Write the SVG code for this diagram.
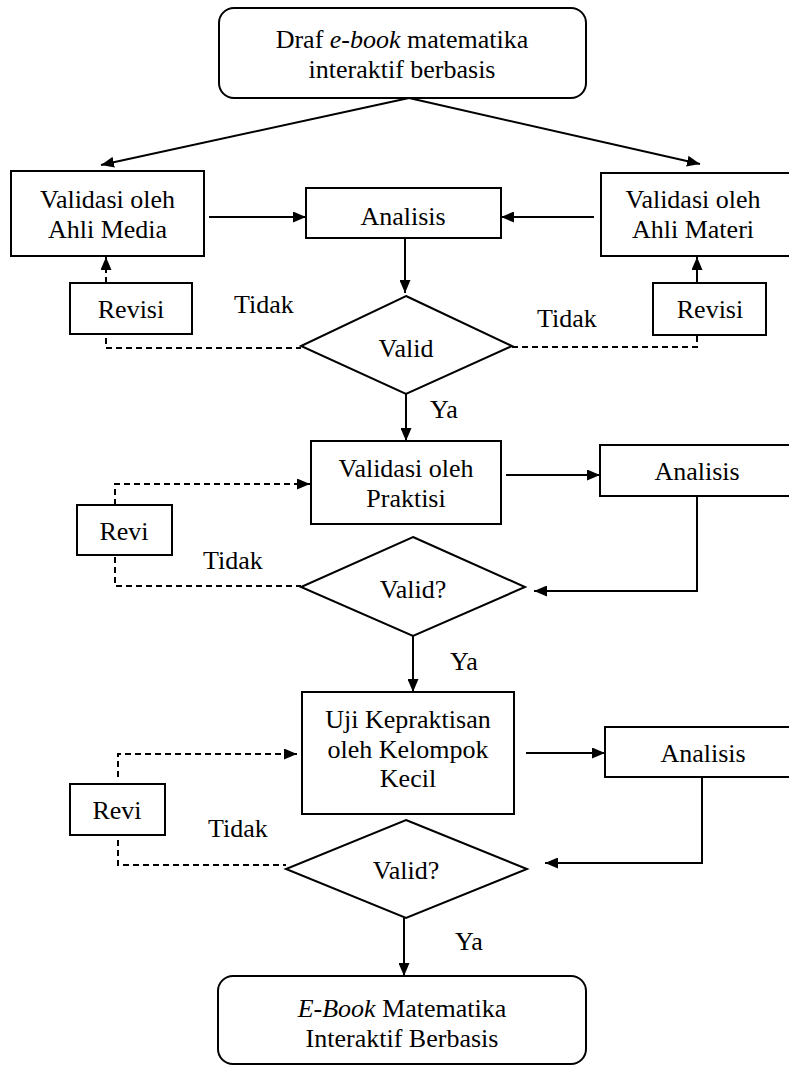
<svg xmlns="http://www.w3.org/2000/svg" width="789" height="1066" viewBox="0 0 789 1066">
<defs>
<marker id="ah" viewBox="0 0 13 11" refX="13" refY="5.5" markerWidth="13" markerHeight="11" orient="auto" markerUnits="userSpaceOnUse"><path d="M0,0 L13,5.5 L0,11 z" fill="#000"/></marker>
<style>
.b{fill:#fff;stroke:#000;stroke-width:2}
.t{font-size:26px;fill:#000}
.c{text-anchor:middle}
.l{fill:none;stroke:#000;stroke-width:2}
.d{fill:none;stroke:#000;stroke-width:2;stroke-dasharray:6,4}
</style>
</defs>
<rect width="789" height="1066" fill="#fff"/>
<g id="connectors">
<line class="l" x1="409" y1="98" x2="101" y2="165" marker-end="url(#ah)"/>
<line class="l" x1="409" y1="98" x2="700" y2="164" marker-end="url(#ah)"/>
<polygon points="405,99 409,94 413,99" fill="#000"/>
<line class="l" x1="209" y1="217" x2="306" y2="217" marker-end="url(#ah)"/>
<line class="l" x1="594" y1="217" x2="501" y2="217" marker-end="url(#ah)"/>
<line class="l" x1="405" y1="238" x2="405" y2="293" marker-end="url(#ah)"/>
<line class="d" x1="106" y1="283" x2="106" y2="268"/>
<line class="l" x1="106" y1="270" x2="106" y2="257" marker-end="url(#ah)"/>
<line class="l" x1="697" y1="283" x2="697" y2="257" marker-end="url(#ah)"/>
<path class="d" d="M106,338 V348 H301"/>
<path class="d" d="M512,347 H697 V335"/>
<line class="l" x1="406" y1="394" x2="406" y2="441" marker-end="url(#ah)"/>
<line class="l" x1="506" y1="475" x2="600" y2="475" marker-end="url(#ah)"/>
<path class="l" d="M697,496 V591 H534" marker-end="url(#ah)"/>
<path class="d" d="M115,505 V484 H310" marker-end="url(#ah)"/>
<path class="d" d="M115,557 V586 H301"/>
<line class="l" x1="413" y1="636" x2="413" y2="692" marker-end="url(#ah)"/>
<line class="l" x1="526" y1="753" x2="605" y2="753" marker-end="url(#ah)"/>
<path class="l" d="M702,777 V863 H545" marker-end="url(#ah)"/>
<path class="d" d="M118,777 V754 H297" marker-end="url(#ah)"/>
<path class="d" d="M118,840 V865 H286"/>
<line class="l" x1="404" y1="918" x2="404" y2="976" marker-end="url(#ah)"/>
</g>
<g font-family="'Liberation Serif', 'Times New Roman', 'DejaVu Serif', serif">
<g id="start">
<rect class="b" x="219" y="8" width="367" height="90" rx="15"/>
<text class="t c" x="402" y="48">Draf <tspan font-style="italic">e-book</tspan> matematika</text>
<text class="t c" x="402" y="78">interaktif berbasis</text>
</g>
<g id="val-media">
<rect class="b" x="11" y="171" width="193" height="85"/>
<text class="t c" x="107.5" y="208">Validasi oleh</text>
<text class="t c" x="107.5" y="238">Ahli Media</text>
</g>
<g id="analisis1">
<rect class="b" x="306" y="188" width="195" height="50"/>
<text class="t c" x="403" y="225">Analisis</text>
</g>
<g id="val-materi">
<rect class="b" x="601" y="173" width="192" height="83"/>
<text class="t c" x="693" y="208">Validasi oleh</text>
<text class="t c" x="693" y="238">Ahli Materi</text>
</g>
<g id="revisi1">
<rect class="b" x="70" y="283" width="122" height="51"/>
<text class="t c" x="131" y="318">Revisi</text>
</g>
<g id="revisi2">
<rect class="b" x="653" y="283" width="113" height="52"/>
<text class="t c" x="710" y="318">Revisi</text>
</g>
<g id="valid1">
<polygon class="b" points="406,296 512,346 406,394 301,346"/>
<text class="t c" x="406" y="357">Valid</text>
</g>
<g id="labels1">
<text class="t" x="234" y="313">Tidak</text>
<text class="t" x="537" y="327">Tidak</text>
<text class="t" x="430" y="418">Ya</text>
</g>
<g id="praktisi">
<rect class="b" x="311" y="441" width="190" height="83"/>
<text class="t c" x="406" y="477">Validasi oleh</text>
<text class="t c" x="406" y="507">Praktisi</text>
</g>
<g id="analisis2">
<rect class="b" x="600" y="445" width="192" height="51"/>
<text class="t c" x="697" y="480">Analisis</text>
</g>
<g id="revi3">
<rect class="b" x="77" y="505" width="95" height="50"/>
<text class="t c" x="124" y="540">Revi</text>
</g>
<g id="valid2">
<polygon class="b" points="413,537 525,587 413,636 301,587"/>
<text class="t c" x="413" y="598">Valid?</text>
</g>
<g id="labels2">
<text class="t" x="203" y="569">Tidak</text>
<text class="t" x="450" y="670">Ya</text>
</g>
<g id="uji">
<rect class="b" x="302" y="692" width="212" height="122"/>
<text class="t c" x="408" y="728">Uji Kepraktisan</text>
<text class="t c" x="408" y="758">oleh Kelompok</text>
<text class="t c" x="408" y="787">Kecil</text>
</g>
<g id="analisis3">
<rect class="b" x="605" y="727" width="190" height="50"/>
<text class="t c" x="703" y="762">Analisis</text>
</g>
<g id="revi4">
<rect class="b" x="70" y="784" width="95" height="51"/>
<text class="t c" x="117" y="819">Revi</text>
</g>
<g id="valid3">
<polygon class="b" points="406,820 527,869 406,918 286,869"/>
<text class="t c" x="406" y="879">Valid?</text>
</g>
<g id="labels3">
<text class="t" x="208" y="837">Tidak</text>
<text class="t" x="455" y="950">Ya</text>
</g>
<g id="end">
<rect class="b" x="218" y="976" width="368" height="88" rx="15"/>
<text class="t c" x="402" y="1017"><tspan font-style="italic">E-Book</tspan> Matematika</text>
<text class="t c" x="402" y="1047">Interaktif Berbasis</text>
</g>
</g>
</svg>
